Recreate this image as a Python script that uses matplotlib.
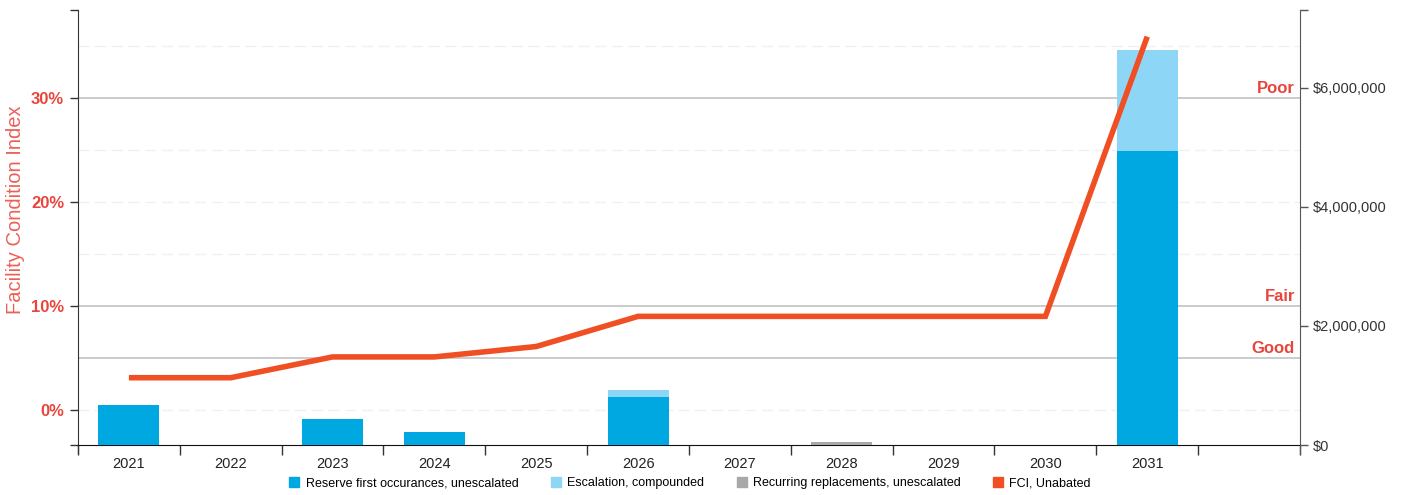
import matplotlib
matplotlib.use("Agg")
import matplotlib.pyplot as plt
from matplotlib.patches import Patch
from matplotlib.ticker import FuncFormatter

plt.rcParams['font.family'] = ['Liberation Sans', 'DejaVu Sans']

# ---- data ----
years = ['2021', '2022', '2023', '2024', '2025', '2026', '2027', '2028', '2029', '2030', '2031']
reserve_first = [672000, 0, 437000, 218000, 0, 802000, 0, 0, 0, 0, 4940000]
escalation = [0, 0, 0, 0, 0, 122000, 0, 0, 0, 0, 1700000]
recurring = [0, 0, 0, 0, 0, 0, 0, 55000, 0, 0, 0]
fci = [3.1, 3.1, 5.1, 5.1, 6.1, 9.0, 9.0, 9.0, 9.0, 9.0, 35.9]
thresholds = [5, 10, 30]
threshold_labels = ['Good', 'Fair', 'Poor']
faint_grid = [0, 15, 20, 25, 35]
pct_ticks = [0, 10, 20, 30]
dollar_ticks = [0, 2000000, 4000000, 6000000]
legend_labels = ['Reserve first occurances, unescalated', 'Escalation, compounded',
                 'Recurring replacements, unescalated', 'FCI, Unabated']

C_DARK = '#00A8E1'
C_LIGHT = '#8ED6F6'
C_GREY = '#A8A8A8'
C_RED = '#F04E23'
C_LABEL = '#E8453C'

fig = plt.figure(figsize=(14.05, 4.95), dpi=100)
ax = fig.add_axes([78 / 1405, 50 / 495, 1222 / 1405, 435 / 495])  # percentage axis (left)
ax2 = ax.twinx()  # dollar axis (right)

n_slots = len(years) + 1
x = list(range(len(years)))
pct_lo, pct_hi = -3.37, 38.46
usd_lo, usd_hi = 0, 7310000

ax.set_xlim(-0.5, n_slots - 0.5)
ax.set_ylim(pct_lo, pct_hi)
ax2.set_ylim(usd_lo, usd_hi)

# grid lines on percentage axis (behind bars)
for g in faint_grid:
    ax.axhline(g, color='#F0F0F0', lw=1, ls=(0, (8, 4)), zorder=0)
for t, lab in zip(thresholds, threshold_labels):
    ax.axhline(t, color='#BDBDBD', lw=1.1, zorder=1)
    ax.text(n_slots - 0.55, t + 0.2, lab, ha='right', va='bottom', color=C_LABEL,
            fontsize=12, fontweight='bold', zorder=2)

# bars on dollar axis
width = 0.6
ax2.bar(x, reserve_first, width, color=C_DARK, zorder=2)
ax2.bar(x, escalation, width, bottom=reserve_first, color=C_LIGHT, zorder=2)
bottoms = [a + b for a, b in zip(reserve_first, escalation)]
ax2.bar(x, recurring, width, bottom=bottoms, color=C_GREY, zorder=2)

# FCI line drawn above bars, in percentage coordinates
ax2.plot(x, fci, color=C_RED, lw=4, transform=ax.transData, zorder=5,
         solid_capstyle='butt', solid_joinstyle='miter')
ax2.set_xlim(-0.5, n_slots - 0.5)

# x ticks: boundaries as tick marks, labels at centers
ax.set_xticks([i - 0.5 for i in range(n_slots + 1)])
ax.set_xticklabels([])
ax.set_xticks(x, minor=True)
ax.set_xticklabels(years, minor=True, fontsize=10.5, color='#222222')
ax.tick_params(axis='x', which='major', length=7, width=1, color='#333333', direction='out')
ax.tick_params(axis='x', which='minor', length=0, pad=9)

# left axis
ax.set_yticks([pct_lo] + pct_ticks + [pct_hi])
ax.set_yticklabels([''] + [f'{t}%' for t in pct_ticks] + [''])
ax.tick_params(axis='y', length=6, width=1, color='#333333', labelsize=12,
               labelcolor=C_LABEL, pad=4)
for lbl in ax.get_yticklabels():
    lbl.set_fontweight('bold')
ax.set_ylabel('Facility Condition Index', color=C_LABEL, fontsize=14.5, alpha=0.85)
ax.yaxis.set_label_coords(-0.043, (445 - 210) / 435)

# right axis
ax2.set_yticks(dollar_ticks + [usd_hi])
ax2.yaxis.set_major_formatter(FuncFormatter(lambda v, p: '' if v > 6500000 else f'${v:,.0f}'))
ax2.tick_params(axis='y', length=6, width=1, color='#555555', labelsize=10.5,
                labelcolor='#333333', pad=3)

for a in (ax, ax2):
    a.spines['top'].set_visible(False)
ax.spines['left'].set_color('#333333')
ax.spines['left'].set_bounds(pct_lo - 0.8, pct_hi)
ax.spines['bottom'].set_color('#111111')
ax.spines['right'].set_visible(False)
ax2.spines['left'].set_visible(False)
ax2.spines['bottom'].set_visible(False)
ax2.spines['right'].set_color('#555555')
ax2.spines['right'].set_bounds(usd_lo - 150000, usd_hi)

handles = [Patch(color=C_DARK), Patch(color=C_LIGHT), Patch(color=C_GREY), Patch(color=C_RED)]
fig.legend(handles, legend_labels, loc='center', bbox_to_anchor=(690 / 1405, 1 - 483 / 495),
           ncol=4, frameon=False, handlelength=0.8, handleheight=0.8, handletextpad=0.5,
           columnspacing=2.6, prop={'family': ['Liberation Sans Narrow', 'Liberation Sans'], 'size': 9})

fig.savefig('out.png', dpi=100)
